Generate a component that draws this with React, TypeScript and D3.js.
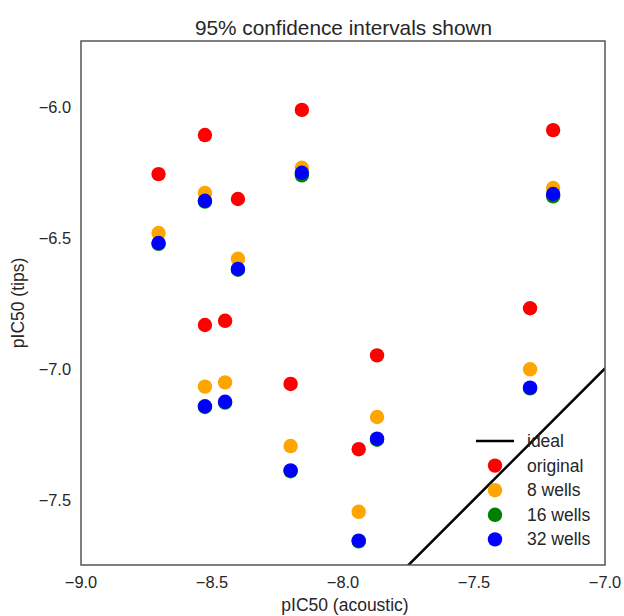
import React from "react";
import * as d3 from "d3";

const compoundsX = [-8.704, -8.527, -8.527, -8.401, -8.45, -8.157, -8.2, -7.94, -7.87, -7.198, -7.286];
const original = [-6.258, -6.109, -6.834, -6.353, -6.818, -6.013, -7.059, -7.308, -6.95, -6.09, -6.77];
const wells8 = [-6.483, -6.33, -7.069, -6.581, -7.053, -6.234, -7.296, -7.547, -7.185, -6.311, -7.003];
const wells16 = [-6.524, -6.363, -7.147, -6.623, -7.13, -6.263, -7.392, -7.66, -7.272, -6.343, -7.076];
const wells32 = [-6.521, -6.36, -7.144, -6.62, -7.127, -6.253, -7.389, -7.657, -7.268, -6.334, -7.073];
const xTicks = [-9.0, -8.5, -8.0, -7.5, -7.0];
const yTicks = [-6.0, -6.5, -7.0, -7.5];
const idealLine = [-9, -7];

const series = [
  { name: "original", values: original, color: "#ff0000" },
  { name: "8 wells", values: wells8, color: "#ffa500" },
  { name: "16 wells", values: wells16, color: "#008000" },
  { name: "32 wells", values: wells32, color: "#0000ff" },
];

const W = 624;
const H = 616;
const left = 81, right = 605, top = 41, bottom = 565;

const fmt = (v: number) => d3.format(".1f")(v).replace("-", "\u2212");

export default function App() {
  const x = d3.scaleLinear().domain([-9, -7]).range([left, right]);
  const y = d3.scaleLinear().domain([-7.75, -5.75]).range([bottom, top]);
  const line = d3.line<number>().x((d) => x(d)).y((d) => y(d));
  const font = "'Liberation Sans', Arial, Helvetica, sans-serif";
  const txt = "#262626";
  const legendX = 476;
  const legendY0 = 441;
  const legendDy = 24.6;
  return (
    <svg width={W} height={H} style={{ position: "absolute", left: 0, top: 0 }} fontFamily={font}>
      <rect x={0} y={0} width={W} height={H} fill="#fff" />
      <defs>
        <clipPath id="plotclip">
          <rect x={left} y={top} width={right - left} height={bottom - top} />
        </clipPath>
      </defs>
      <text x={(left + right) / 2 + 0.5} y={35} textAnchor="middle" fontSize={20.8} fill={txt}>
        95% confidence intervals shown
      </text>
      <g clipPath="url(#plotclip)">
        <path d={line(idealLine) || ""} stroke="#000" strokeWidth={2.6} fill="none" />
        {series.map((s) =>
          s.values.map((v, i) => (
            <circle key={s.name + i} cx={x(compoundsX[i])} cy={y(v)} r={7.2} fill={s.color} />
          ))
        )}
      </g>
      <rect x={left} y={top} width={right - left} height={bottom - top} fill="none" stroke="#555" strokeWidth={1.5} />
      {xTicks.map((t) => (
        <text key={"x" + t} x={x(t)} y={bottom + 23} textAnchor="middle" fontSize={16.4} fill={txt}>
          {fmt(t)}
        </text>
      ))}
      {yTicks.map((t) => (
        <text key={"y" + t} x={left - 10} y={y(t) + 6} textAnchor="end" fontSize={16.4} fill={txt}>
          {fmt(t)}
        </text>
      ))}
      <text x={(left + right) / 2 + 2} y={611} textAnchor="middle" fontSize={17.5} fill={txt}>
        pIC50 (acoustic)
      </text>
      <text transform={`translate(24, ${(top + bottom) / 2}) rotate(-90)`} textAnchor="middle" fontSize={17.5} fill={txt}>
        pIC50 (tips)
      </text>
      <g>
        <line x1={legendX} x2={legendX + 38} y1={legendY0} y2={legendY0} stroke="#000" strokeWidth={2.6} />
        <text x={legendX + 51} y={legendY0 + 6} fontSize={17.5} fill={txt}>ideal</text>
        {series.map((s, i) => (
          <g key={s.name}>
            <circle cx={legendX + 19} cy={legendY0 + legendDy * (i + 1)} r={7.2} fill={s.color} />
            <text x={legendX + 51} y={legendY0 + legendDy * (i + 1) + 6} fontSize={17.5} fill={txt}>
              {s.name}
            </text>
          </g>
        ))}
      </g>
    </svg>
  );
}
